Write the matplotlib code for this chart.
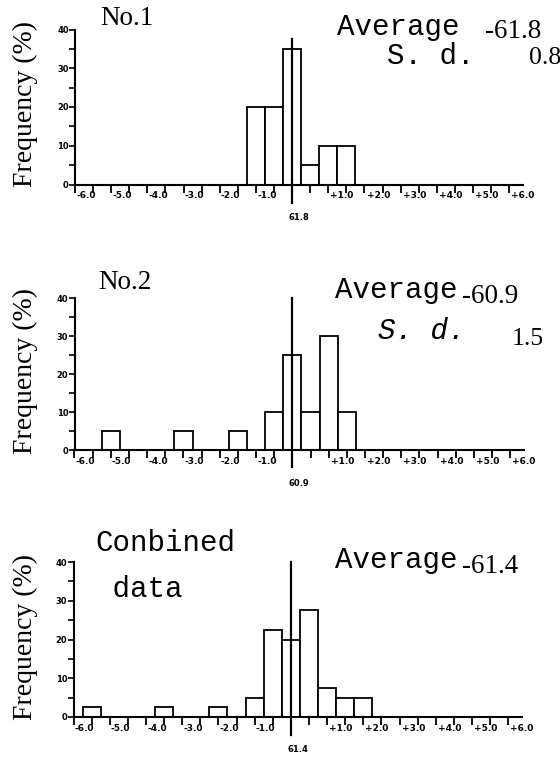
import matplotlib
matplotlib.use("Agg")
import matplotlib.pyplot as plt
import numpy as np

# ---- data ----
p1_bins = [-1.0, -0.5, 0.0, 0.5, 1.0, 1.5]
p1_freq = [20, 20, 35, 5, 10, 10]

p2_bins = [-5.0, -3.0, -1.5, -0.5, 0.0, 0.5, 1.0, 1.5]
p2_freq = [5, 5, 5, 10, 25, 10, 30, 10]

p3_bins = [-5.5, -3.5, -2.0, -1.0, -0.5, 0.0, 0.5, 1.0, 1.5, 2.0]
p3_freq = [2.5, 2.5, 2.5, 5, 22.5, 20, 27.5, 7.5, 5, 5]

neg_labels = [-6.0, -5.0, -4.0, -3.0, -2.0, -1.0]
pos_labels = [1.0, 2.0, 3.0, 4.0, 5.0, 6.0]
y_labels = [0, 10, 20, 30, 40]

centers = ["61.8", "60.9", "61.4"]
titles = ["No.1", "No.2", "Conbined\n data"]
averages = ["-61.8", "-60.9", "-61.4"]
sds = ["0.8", "1.5", None]

W, H = 560, 759
fig = plt.figure(figsize=(W / 100, H / 100), dpi=100)

SERIF = "Liberation Serif"
MONO = "Liberation Mono"

def fx(px):
    return px / W

def fy(py):
    return 1 - py / H

# axes pixel boxes: left, right, y(0), y(40)
boxes = [(75, 523, 184.5, 29.5), (74.5, 524, 450, 298), (73.5, 522, 717, 562)]
line_ext = [(-4.8, 37.5), (-4.5, 40), (-4.7, 40)]
datasets = [(p1_bins, p1_freq), (p2_bins, p2_freq), (p3_bins, p3_freq)]

axes = []
for i, ((l, r, y0, y40), (bins, freq)) in enumerate(zip(boxes, datasets)):
    ax = fig.add_axes([fx(l), fy(y0), (r - l) / W, (y0 - y40) / H])
    axes.append(ax)
    ax.bar(bins, freq, width=0.5, facecolor="white", edgecolor="black",
           linewidth=1.3, zorder=2)
    ax.set_xlim(-6, 6)
    ax.set_ylim(0, 40)
    for s in ["top", "right"]:
        ax.spines[s].set_visible(False)
    for s in ["left", "bottom"]:
        ax.spines[s].set_linewidth(1.5)
    # x tick marks every 0.5, labels offset to the right of the marks
    ax.set_xticks(np.arange(-6, 6.01, 0.5))
    ax.set_xticklabels([])
    ax.tick_params(axis="x", which="major", direction="out", length=6, width=1.3)
    lab_pos = [v + 0.30 for v in neg_labels] + [v + 0.38 for v in pos_labels]
    lab_txt = ["%.1f" % v for v in neg_labels] + ["+%.1f" % v for v in pos_labels]
    ax.set_xticks(lab_pos, minor=True)
    ax.set_xticklabels(lab_txt, minor=True, fontsize=6.5, fontweight="bold",
                       family="DejaVu Sans")
    ax.tick_params(axis="x", which="minor", length=0, pad=5)
    # y ticks
    ax.set_yticks(np.arange(0, 40.1, 5))
    ax.set_yticklabels([str(v) if v in y_labels else "" for v in np.arange(0, 41, 5)],
                       fontsize=6, fontweight="bold", family="DejaVu Sans")
    ax.tick_params(axis="y", direction="out", length=4, width=1.2, pad=0.5)
    # center reference line
    lo, hi = line_ext[i]
    ax.axvline(0, ymin=lo / 40, ymax=hi / 40, color="black", linewidth=1.6,
               clip_on=False, zorder=3)
    ax.annotate(centers[i], xy=(0.19, 0), xycoords=("data", "axes fraction"),
                xytext=(0, -33), textcoords="offset pixels", ha="center",
                va="center", fontsize=6, fontweight="bold", family="DejaVu Sans")
    # y label
    fig.text(fx(25), fy((y0 + y40) / 2 - 3), "Frequency (%)", rotation=90,
             ha="center", va="center", fontsize=20, family=SERIF)

# titles
fig.text(fx(100), fy(25), titles[0], fontsize=19.5, family=SERIF, va="baseline")
fig.text(fx(98), fy(289), titles[1], fontsize=19.5, family=SERIF, va="baseline")
t1, t2 = titles[2].split("\n")
fig.text(fx(95), fy(551), t1, fontsize=21, family=MONO, va="baseline")
fig.text(fx(95), fy(597), t2, fontsize=21, family=MONO, va="baseline")

# averages and s.d.
fig.text(fx(337), fy(35), "Average", fontsize=21, family=MONO, va="baseline")
fig.text(fx(485), fy(38), averages[0], fontsize=19.5, family=SERIF, va="baseline")
fig.text(fx(387), fy(64), "S. d.", fontsize=21, family=MONO, va="baseline")
fig.text(fx(529), fy(64), sds[0], fontsize=18.5, family=SERIF, va="baseline")

fig.text(fx(335), fy(298), "Average", fontsize=21, family=MONO, va="baseline")
fig.text(fx(462), fy(303), averages[1], fontsize=19.5, family=SERIF, va="baseline")
fig.text(fx(378), fy(339), "S. d.", fontsize=21, family=MONO, style="italic",
         va="baseline")
fig.text(fx(512), fy(345), sds[1], fontsize=18.5, family=SERIF, va="baseline")

fig.text(fx(335), fy(568), "Average", fontsize=21, family=MONO, va="baseline")
fig.text(fx(462), fy(573), averages[2], fontsize=19.5, family=SERIF, va="baseline")

fig.savefig("out.png", dpi=100, facecolor="white")
